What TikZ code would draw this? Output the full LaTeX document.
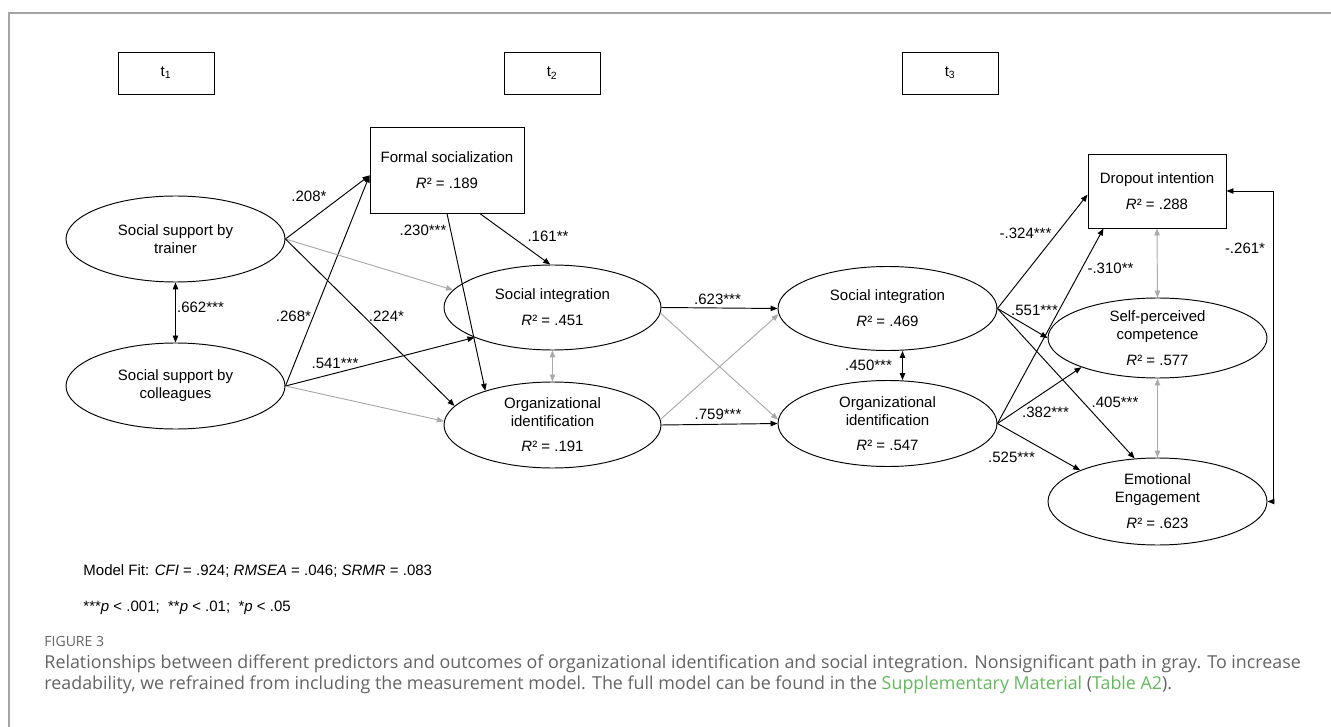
\documentclass[tikz,border=0pt]{standalone}
\usepackage{fontspec}
\setmainfont{Liberation Sans}
\newfontfamily\capfont{Open Sans}
\usetikzlibrary{arrows.meta,shapes.geometric,calc}
\definecolor{nsgray}{RGB}{170,170,170}
\definecolor{framegray}{RGB}{165,165,165}
\definecolor{capgray}{RGB}{100,100,100}
\definecolor{linkgreen}{RGB}{100,185,95}
\begin{document}
\begin{tikzpicture}[x=1pt,y=-1pt,
  >={Triangle[length=7pt,width=5.5pt]},
  line width=0.95pt,
  dfont/.style={font=\fontsize{15}{18}\selectfont},
  ell/.style={draw, ellipse, inner sep=0pt, minimum width=219pt, minimum height=86pt, align=center, dfont},
  rbox/.style={draw, rectangle, inner sep=0pt, align=center, dfont},
  lab/.style={inner sep=0pt, dfont},
  arr/.style={->, draw=black},
  nsarr/.style={->, draw=nsgray},
  txt/.style={anchor=base west, inner sep=0pt}
]
\fill[white] (0,0) rectangle (1331,727);
\useasboundingbox (0,0) rectangle (1331,727);
\draw[framegray, line width=1.3pt] (9,727) -- (9,13) -- (1331,13);

% time boxes
\node[rbox, minimum width=96pt, minimum height=42pt] (t1) at (166,73) {t\textsubscript{1}};
\node[rbox, minimum width=96pt, minimum height=42pt] (t2) at (552,73) {t\textsubscript{2}};
\node[rbox, minimum width=96pt, minimum height=42pt] (t3) at (950,73) {t\textsubscript{3}};

% nodes
\node[rbox, minimum width=154pt, minimum height=86pt] (fs) at (447,170) {Formal socialization\\[8pt]\textit{R}² = .189};
\node[ell] (tr) at (175.5,239) {Social support by\\trainer};
\node[ell] (co) at (175.5,386) {Social support by\\colleagues};
\node[ell, minimum width=217pt, minimum height=85pt] (si2) at (552.5,307.5) {Social integration\\[8pt]\textit{R}² = .451};
\node[ell, minimum width=217pt] (oi2) at (552.5,425) {Organizational\\identification\\[7pt]\textit{R}² = .191};
\node[ell, minimum height=84pt] (si3) at (887.5,308.5) {Social integration\\[8pt]\textit{R}² = .469};
\node[ell] (oi3) at (887.5,423.5) {Organizational\\identification\\[7pt]\textit{R}² = .547};
\node[rbox, minimum width=138pt, minimum height=74pt] (do) at (1157,191) {Dropout intention\\[8pt]\textit{R}² = .288};
\node[ell, minimum height=80pt] (sp) at (1157.5,338) {Self-perceived\\competence\\[8pt]\textit{R}² = .577};
\node[ell, minimum height=87pt] (ee) at (1157.5,501.5) {Emotional\\Engagement\\[8pt]\textit{R}² = .623};

% paths t1 -> t2
\draw[arr] (tr.east) -- (fs.184);
\draw[arr] (co.east) -- (fs.184);
\draw[nsarr] (tr.east) -- (si2.170);
\draw[arr] (tr.east) -- (oi2.169);
\draw[arr] (co.east) -- (si2.201);
\draw[nsarr] (co.east) -- (oi2.178);
\draw[arr] (fs.south) -- (oi2.153);
\draw[arr] (fs.307.5) -- (si2.93);
\draw[arr,<->] (tr.south) -- (co.north);
\draw[nsarr,<->] (si2.south) -- (oi2.north);

% t2 -> t3
\draw[arr] (si2.east) -- (si3.west);
\draw[arr] (oi2.east) -- (oi3.west);
\draw[nsarr] (si2.357) -- (oi3.178);
\draw[nsarr] (oi2.3) -- (si3.183);
\draw[arr,<->] ($(si3.south)+(15,0)$) -- ($(oi3.north)+(15,0)$);

% t3 -> outcomes
\draw[arr] (si3.east) -- (do.183);
\draw[arr] (oi3.east) -- (do.215);
\draw[arr] (si3.east) -- (sp.west);
\draw[arr] (si3.east) -- (ee.118);
\draw[arr] (oi3.east) -- (sp.201);
\draw[arr] (oi3.east) -- (ee.158);
\draw[nsarr,<->] (do.south) -- (sp.north);
\draw[nsarr,<->] (sp.south) -- (ee.north);
\draw[arr,<->] (do.east) -- ++(47,0) |- (ee.east);

% labels
\node[lab] (l208) at (309,196) {.208*};
\node[lab] (l230) at (423,230) {.230***};
\node[lab] (l161) at (548,236) {.161**};
\node[lab] (l662) at (200.5,307) {.662***};
\node[lab] (l268) at (293.5,316) {.268*};
\node[lab] (l224) at (386.5,316) {.224*};
\node[lab] (l541) at (335,363) {.541***};
\node[lab] (l623) at (717.5,299) {.623***};
\node[lab] (l759) at (718,414) {.759***};
\node[lab] (l450) at (868.5,365) {.450***};
\node[lab] (l324) at (1025.5,233) {-.324***};
\node[lab] (l310) at (1110.5,268) {-.310**};
\node[lab] (l551) at (1034.5,310) {.551***};
\node[lab] (l405) at (1115,402) {.405***};
\node[lab] (l382) at (1045.5,412) {.382***};
\node[lab] (l525) at (1011.5,457) {.525***};
\node[lab] (l261) at (1245,248) {-.261*};

% notes
\node[txt, font=\fontsize{15}{17}\selectfont] (fit) at (83,575) {Model Fit: \textit{CFI} = .924; \textit{RMSEA} = .046; \textit{SRMR} = .083};
\node[txt, font=\fontsize{15}{17}\selectfont] (sig) at (83,611) {***\textit{p} < .001;\ \ **\textit{p} < .01;\ \ *\textit{p} < .05};

% caption
\node[txt, font=\capfont\fontsize{14}{15}\selectfont, text=capgray] (fig) at (44,646) {FIGURE 3};
\node[txt, font=\capfont\fontsize{17.85}{20}\selectfont, text=capgray] (cap1) at (44,668) {Relationships between different predictors and outcomes of organizational identification and social integration. Nonsignificant path in gray. To increase};
\node[txt, font=\capfont\fontsize{17.85}{20}\selectfont, text=capgray] (cap2) at (44,689) {readability, we refrained from including the measurement model. The full model can be found in the \textcolor{linkgreen}{Supplementary Material} (\textcolor{linkgreen}{Table A2}).};
\end{tikzpicture}
\end{document}
